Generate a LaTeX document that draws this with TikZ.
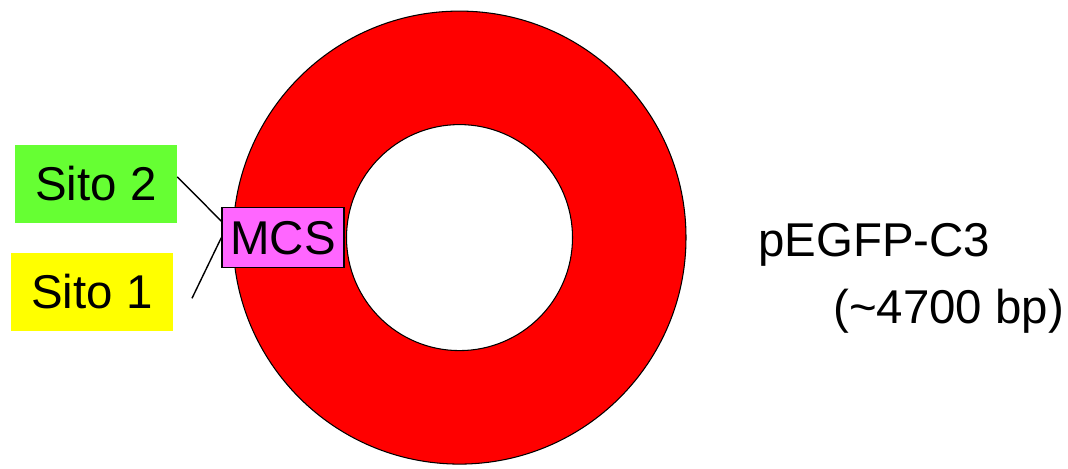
\documentclass[tikz,border=0pt]{standalone}
\usepackage{fontspec}
\setmainfont{Liberation Sans}
\definecolor{verde}{HTML}{66FF33}
\definecolor{giallo}{HTML}{FFFF00}
\definecolor{rosa}{HTML}{FF66FF}
\begin{document}
\begin{tikzpicture}[x=0.02cm,y=0.02cm,
	testo/.style={font=\fontsize{27}{32}\selectfont, inner sep=0pt},
	sito/.style={testo, minimum width=3.24cm, minimum height=1.55cm},
	linea/.style={line width=0.8pt}]
	
	\useasboundingbox (0,0) rectangle (1068,469);
	
	% Plasmide
	\coordinate (C) at (459.5,231.4);
	\draw[line width=0.6pt, fill=red, even odd rule] (C) circle (226.5) (C) circle (113);
	
	% Siti
	\node[sito, fill=verde] (sito2) at (96,285) {Sito 2};
	\node[sito, fill=giallo] (sito1) at (92,177) {Sito 1};
	
	% MCS
	\node[testo, draw, line width=0.8pt, fill=rosa, minimum width=2.44cm, minimum height=1.2cm] (mcs) at (283,231.3) {MCS};
	
	% Linee
	\coordinate (coda) at (192,170.7);
	\draw[linea] (sito2.5) -- (mcs.165);
	\draw[linea] (coda) -- (mcs.west);
	
	% Nome
	\node[testo, anchor=base west] (nome) at (758,212) {pEGFP-C3};
	\node[testo, anchor=base west] (bp) at (833,145) {(\textasciitilde 4700 bp)};
	
\end{tikzpicture}
\end{document}
